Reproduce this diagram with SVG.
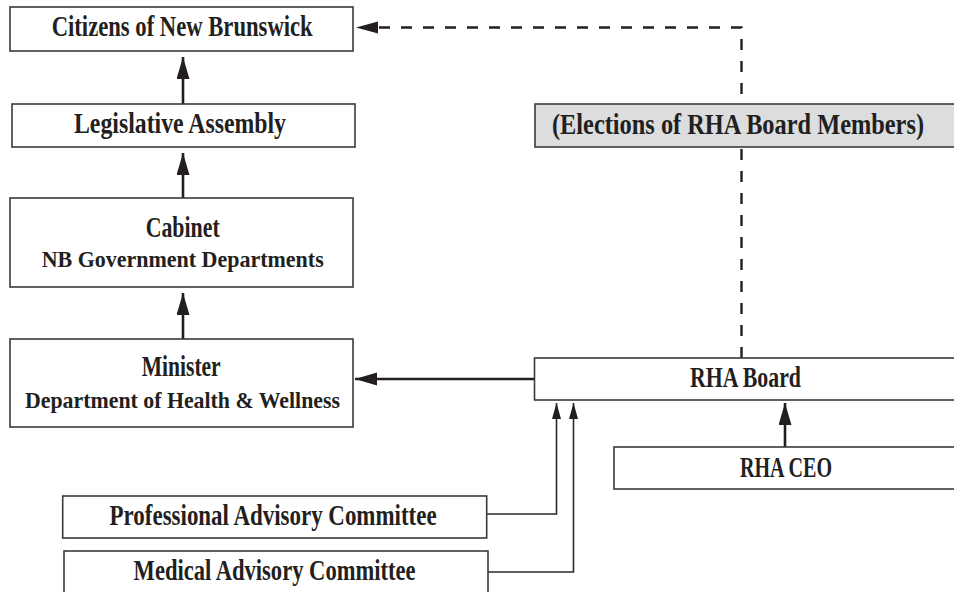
<svg xmlns="http://www.w3.org/2000/svg" width="954" height="592" viewBox="0 0 954 592">
<style>
.box{fill:#fff;stroke:#3a3a3a;stroke-width:1.6}
.grey{fill:#dcdddf}
.t{font-family:"Liberation Serif","Times New Roman",serif;font-weight:bold;font-size:30px;fill:#231f20}
.s{font-size:24px}
.arr{fill:none;stroke:#231f20;stroke-width:2.6}
.dash{fill:none;stroke:#231f20;stroke-width:2.4;stroke-dasharray:11 11}
.thin{fill:none;stroke:#2a2a2a;stroke-width:1.6}
</style>
<defs>
<marker id="big" markerUnits="userSpaceOnUse" markerWidth="22" markerHeight="14" refX="22" refY="6.5" orient="auto">
<path d="M0,0 L22,6.5 L0,13 z" fill="#231f20"/>
</marker>
<marker id="small" markerUnits="userSpaceOnUse" markerWidth="16" markerHeight="10" refX="16" refY="4.5" orient="auto">
<path d="M0,0 L16,4.5 L0,9 z" fill="#231f20"/>
</marker>
</defs>
<g id="connectors">
<path class="dash" d="M741.5,358 V27.5 H378"/>
<path d="M378,21.5 L356,27.5 L378,33.5 z" fill="#231f20"/>
<path class="arr" d="M183,104 V57" marker-end="url(#big)"/>
<path class="arr" d="M183,198 V153" marker-end="url(#big)"/>
<path class="arr" d="M183,339 V293" marker-end="url(#big)"/>
<path class="arr" d="M534,379 H355" marker-end="url(#big)"/>
<path class="arr" d="M785,447 V403" marker-end="url(#big)"/>
<path class="thin" d="M487,514 H556.5 V403" marker-end="url(#small)"/>
<path class="thin" d="M488,572 H573.5 V403" marker-end="url(#small)"/>
</g>
<g id="citizens">
<rect class="box" x="10" y="7" width="343" height="44"/>
<text class="t" x="51.7" y="36" textLength="261" lengthAdjust="spacingAndGlyphs">Citizens of New Brunswick</text>
</g>
<g id="legislative">
<rect class="box" x="12" y="104" width="343" height="43"/>
<text class="t" x="74" y="132.5" textLength="212" lengthAdjust="spacingAndGlyphs">Legislative Assembly</text>
</g>
<g id="cabinet">
<rect class="box" x="10" y="198" width="343" height="89"/>
<text class="t" x="145.7" y="237" textLength="74" lengthAdjust="spacingAndGlyphs">Cabinet</text>
<text class="t s" x="41.7" y="267" textLength="282" lengthAdjust="spacingAndGlyphs">NB Government Departments</text>
</g>
<g id="minister">
<rect class="box" x="10" y="339" width="343" height="88"/>
<text class="t" x="141.7" y="376" textLength="79" lengthAdjust="spacingAndGlyphs">Minister</text>
<text class="t s" x="25" y="408" textLength="315" lengthAdjust="spacingAndGlyphs">Department of Health &amp; Wellness</text>
</g>
<g id="elections">
<rect class="box grey" x="535" y="104" width="430" height="43"/>
<text class="t" x="552" y="133.5" textLength="372" lengthAdjust="spacingAndGlyphs">(Elections of RHA Board Members)</text>
</g>
<g id="rha-board">
<rect class="box" x="534.5" y="358" width="430" height="42"/>
<text class="t" x="690" y="386.5" textLength="111" lengthAdjust="spacingAndGlyphs">RHA Board</text>
</g>
<g id="rha-ceo">
<rect class="box" x="614" y="447" width="350" height="42"/>
<text class="t" x="740" y="477" textLength="92" lengthAdjust="spacingAndGlyphs">RHA CEO</text>
</g>
<g id="professional">
<rect class="box" x="62.7" y="496" width="424" height="42"/>
<text class="t" x="109.6" y="524.5" textLength="327" lengthAdjust="spacingAndGlyphs">Professional Advisory Committee</text>
</g>
<g id="medical">
<rect class="box" x="64" y="551" width="424" height="44"/>
<text class="t" x="133.6" y="579.5" textLength="282" lengthAdjust="spacingAndGlyphs">Medical Advisory Committee</text>
</g>
</svg>
